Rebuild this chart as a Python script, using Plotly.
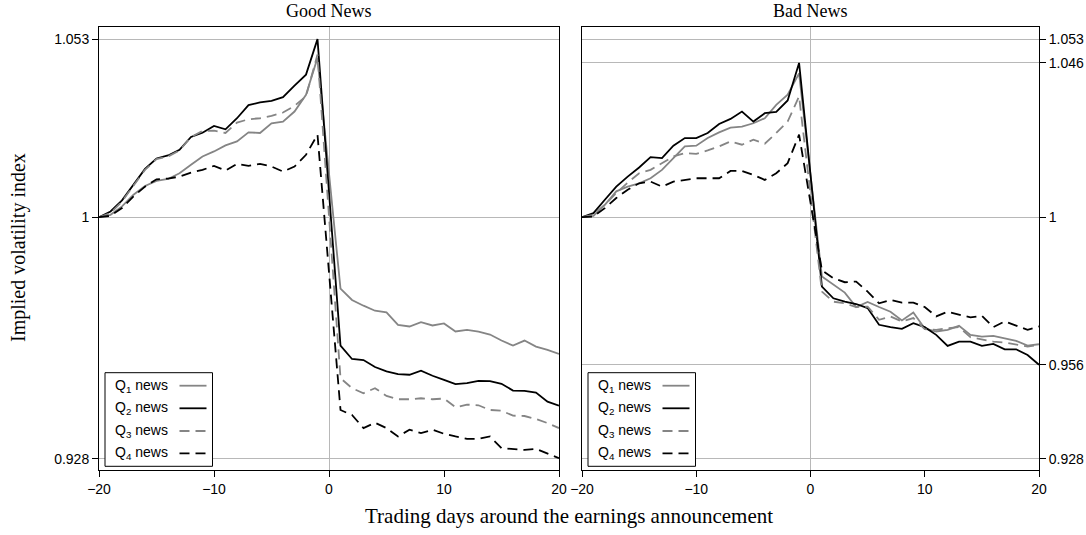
import plotly.graph_objects as go

# ---------------- data ----------------
days = list(range(-20, 0)) + list(range(1, 21))

good_q1 = [1.0000, 1.0007, 1.0032, 1.0067, 1.0093, 1.0108, 1.0114, 1.0131, 1.0156, 1.0181,
           1.0196, 1.0214, 1.0226, 1.0253, 1.0251, 1.0280, 1.0285, 1.0315, 1.0365, 1.0475,
           0.9787, 0.9753, 0.9736, 0.9721, 0.9716, 0.9679, 0.9674, 0.9687, 0.9677, 0.9683,
           0.9659, 0.9664, 0.9659, 0.9650, 0.9632, 0.9617, 0.9632, 0.9614, 0.9604, 0.9592]
good_q2 = [1.0000, 1.0017, 1.0050, 1.0096, 1.0144, 1.0175, 1.0184, 1.0201, 1.0239, 1.0252,
           1.0272, 1.0262, 1.0295, 1.0334, 1.0342, 1.0347, 1.0358, 1.0392, 1.0425, 1.0531,
           0.9617, 0.9577, 0.9574, 0.9553, 0.9540, 0.9532, 0.9530, 0.9542, 0.9527, 0.9515,
           0.9502, 0.9505, 0.9512, 0.9511, 0.9503, 0.9483, 0.9482, 0.9477, 0.9450, 0.9438]
good_q3 = [1.0000, 1.0012, 1.0047, 1.0093, 1.0141, 1.0173, 1.0181, 1.0199, 1.0239, 1.0257,
           1.0258, 1.0251, 1.0282, 1.0292, 1.0295, 1.0302, 1.0312, 1.0332, 1.0360, 1.0485,
           0.9520, 0.9490, 0.9475, 0.9490, 0.9467, 0.9457, 0.9457, 0.9460, 0.9457, 0.9459,
           0.9433, 0.9441, 0.9439, 0.9425, 0.9423, 0.9408, 0.9407, 0.9398, 0.9386, 0.9371]
good_q4 = [1.0000, 1.0004, 1.0027, 1.0062, 1.0091, 1.0113, 1.0115, 1.0121, 1.0133, 1.0141,
           1.0153, 1.0139, 1.0159, 1.0153, 1.0159, 1.0151, 1.0136, 1.0151, 1.0186, 1.0246,
           0.9425, 0.9410, 0.9371, 0.9387, 0.9371, 0.9346, 0.9366, 0.9356, 0.9366, 0.9354,
           0.9346, 0.9339, 0.9339, 0.9346, 0.9311, 0.9309, 0.9306, 0.9309, 0.9296, 0.9281]

bad_q1 = [1.0000, 1.0004, 1.0037, 1.0077, 1.0091, 1.0101, 1.0116, 1.0141, 1.0176, 1.0211,
          1.0213, 1.0236, 1.0253, 1.0267, 1.0270, 1.0280, 1.0295, 1.0335, 1.0365, 1.0429,
          0.9823, 0.9799, 0.9775, 0.9732, 0.9747, 0.9732, 0.9718, 0.9692, 0.9716, 0.9668,
          0.9659, 0.9664, 0.9676, 0.9649, 0.9644, 0.9646, 0.9639, 0.9631, 0.9617, 0.9621]
bad_q2 = [1.0000, 1.0012, 1.0052, 1.0091, 1.0121, 1.0148, 1.0179, 1.0176, 1.0213, 1.0236,
          1.0236, 1.0251, 1.0278, 1.0293, 1.0315, 1.0285, 1.0310, 1.0314, 1.0348, 1.0460,
          0.9793, 0.9758, 0.9748, 0.9741, 0.9729, 0.9679, 0.9672, 0.9667, 0.9684, 0.9672,
          0.9649, 0.9616, 0.9629, 0.9629, 0.9616, 0.9622, 0.9606, 0.9606, 0.9589, 0.9560]
bad_q3 = [1.0000, 1.0007, 1.0037, 1.0072, 1.0103, 1.0131, 1.0141, 1.0161, 1.0181, 1.0191,
          1.0189, 1.0199, 1.0211, 1.0226, 1.0216, 1.0231, 1.0219, 1.0251, 1.0285, 1.0360,
          0.9778, 0.9748, 0.9743, 0.9732, 0.9733, 0.9694, 0.9704, 0.9689, 0.9699, 0.9666,
          0.9664, 0.9669, 0.9672, 0.9642, 0.9636, 0.9629, 0.9626, 0.9619, 0.9614, 0.9619]
bad_q4 = [1.0000, 1.0002, 1.0027, 1.0057, 1.0082, 1.0101, 1.0106, 1.0091, 1.0106, 1.0111,
          1.0116, 1.0116, 1.0116, 1.0138, 1.0138, 1.0126, 1.0111, 1.0131, 1.0161, 1.0246,
          0.9841, 0.9818, 0.9806, 0.9808, 0.9778, 0.9743, 0.9753, 0.9745, 0.9745, 0.9732,
          0.9704, 0.9718, 0.9709, 0.9701, 0.9706, 0.9672, 0.9689, 0.9676, 0.9664, 0.9674]

series_labels = ["Q<sub>1</sub> news", "Q<sub>2</sub> news", "Q<sub>3</sub> news", "Q<sub>4</sub> news"]
panel_titles = ["Good News", "Bad News"]
x_ticks = [-20, -10, 0, 10, 20]
left_y_ticks = [0.928, 1.0, 1.053]
left_y_text = ["0.928", "1", "1.053"]
right_y_ticks = [0.928, 0.956, 1.0, 1.046, 1.053]
right_y_text = ["0.928", "0.956", "1", "1.046", "1.053"]
x_title = "Trading days around the earnings announcement"
y_title = "Implied volatility index"

# ---------------- styling ----------------
W, H = 1086, 535
GRAY = "#858585"
GRID = "#b8b8b8"
DASH = "10px,6px"
SANS = "Liberation Sans, Arial, sans-serif"
SERIF = "Liberation Serif, Times New Roman, serif"
styles = [dict(color=GRAY, dash="solid"), dict(color="black", dash="solid"),
          dict(color=GRAY, dash=DASH), dict(color="black", dash=DASH)]

def px(p):
    return p / W

def py(p):
    return 1 - p / H

LEFT = (99, 559)
RIGHT = (582, 1039)
TOP, BOTTOM = 26.7, 470
Y_RANGE = [0.9246, 1.0568]

fig = go.Figure()
panels = [("x", "y", [good_q1, good_q2, good_q3, good_q4]),
          ("x2", "y2", [bad_q1, bad_q2, bad_q3, bad_q4])]
for xa, ya, data in panels:
    for st, ys, name in zip(styles, data, series_labels):
        fig.add_trace(go.Scatter(x=days, y=ys, mode="lines", name=name,
                                 line=dict(color=st["color"], dash=st["dash"], width=1.8),
                                 xaxis=xa, yaxis=ya, showlegend=False, hoverinfo="skip"))

common_x = dict(range=[-20, 20], tickvals=x_ticks, ticks="outside", ticklen=6, tickwidth=1,
                tickcolor="black", showline=True, mirror=True, linecolor="black", linewidth=1,
                showgrid=False, zeroline=True, zerolinecolor=GRID, zerolinewidth=1,
                automargin=False,
                tickfont=dict(family=SANS, size=14, color="black"), fixedrange=True)
common_y = dict(range=Y_RANGE, ticks="outside", ticklen=6, tickwidth=1, tickcolor="black",
                showline=True, mirror=True, linecolor="black", linewidth=1,
                showgrid=True, gridcolor=GRID, gridwidth=1, zeroline=False,
                automargin=False,
                tickfont=dict(family=SANS, size=14, color="black"), fixedrange=True)

ydom = [py(BOTTOM), py(TOP)]
fig.update_layout(
    width=W, height=H, margin=dict(l=0, r=0, t=0, b=0, autoexpand=False),
    paper_bgcolor="white", plot_bgcolor="white", showlegend=False,
    xaxis=dict(domain=[px(LEFT[0]), px(LEFT[1])], anchor="y", **common_x),
    yaxis=dict(domain=ydom, anchor="x", tickvals=left_y_ticks, ticktext=left_y_text, side="left", **common_y),
    xaxis2=dict(domain=[px(RIGHT[0]), px(RIGHT[1])], anchor="y2", **common_x),
    yaxis2=dict(domain=ydom, anchor="x2", tickvals=right_y_ticks, ticktext=right_y_text, side="right", **common_y),
)

annotations = []
shapes = []
# panel titles
for (x0, x1), t in zip([LEFT, RIGHT], panel_titles):
    annotations.append(dict(text=t, x=px((x0 + x1) / 2), y=py(10.5), xref="paper", yref="paper",
                            xanchor="center", yanchor="middle", showarrow=False,
                            font=dict(family=SERIF, size=18, color="black")))
# axis titles
annotations.append(dict(text=x_title, x=px((LEFT[0] + RIGHT[1]) / 2), y=py(516), xref="paper", yref="paper",
                        xanchor="center", yanchor="middle", showarrow=False,
                        font=dict(family=SERIF, size=21, color="black")))
annotations.append(dict(text=y_title, x=px(18), y=py(248), xref="paper", yref="paper", textangle=-90,
                        xanchor="center", yanchor="middle", showarrow=False,
                        font=dict(family=SERIF, size=20, color="black")))

# hand-built legends (sample line to the right of the label, as in the reference)
row_y = [385.7, 408.3, 431.0, 453.3]
for (x0, _x1) in [LEFT, RIGHT]:
    bx0 = x0 + 6
    bx1 = bx0 + 107.5
    shapes.append(dict(type="rect", xref="paper", yref="paper", x0=px(bx0), x1=px(bx1),
                       y0=py(466.3), y1=py(372.7), line=dict(color="black", width=1),
                       fillcolor="white", layer="above"))
    for st, lab, ry in zip(styles, series_labels, row_y):
        annotations.append(dict(text=lab, x=px(bx0 + 7.5), y=py(ry), xref="paper", yref="paper",
                                xanchor="left", yanchor="middle", showarrow=False,
                                font=dict(family=SANS, size=14, color="black")))
        shapes.append(dict(type="line", xref="paper", yref="paper", x0=px(bx0 + 74.5), x1=px(bx0 + 101.5),
                           y0=py(ry), y1=py(ry), layer="above",
                           line=dict(color=st["color"], dash=st["dash"], width=1.8)))

fig.update_layout(annotations=annotations, shapes=shapes)
fig.write_html("out.html", config={"displayModeBar": False},
               post_script="document.body.style.margin='0px';")
